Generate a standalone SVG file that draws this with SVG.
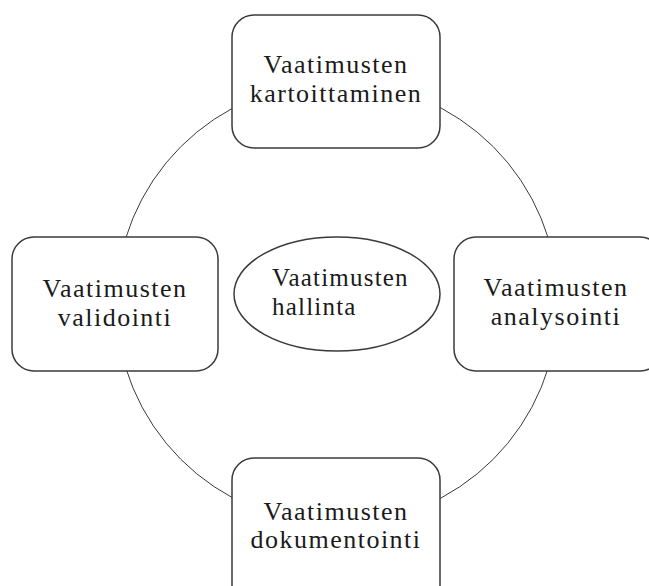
<svg xmlns="http://www.w3.org/2000/svg" width="649" height="586" viewBox="0 0 649 586">
<style>
.box{fill:#fff;stroke:#3a3a3a;stroke-width:1.5}
.ring{fill:none;stroke:#3a3a3a;stroke-width:1}
.t{font-family:"Liberation Serif",serif;font-size:26px;letter-spacing:1.5px;fill:#1a1a1a;text-anchor:middle}
.tl{font-family:"Liberation Serif",serif;font-size:25px;letter-spacing:1.2px;fill:#1a1a1a}
</style>
<rect width="649" height="586" fill="#fff"/>
<g id="connectors">
<circle class="ring" cx="337" cy="303" r="221"/>
</g>
<g id="n-kartoittaminen">
<rect class="box" x="232" y="15" width="208" height="133" rx="22"/>
<text class="t" x="336" y="73">Vaatimusten</text>
<text class="t" x="336" y="102">kartoittaminen</text>
</g>
<g id="n-validointi">
<rect class="box" x="12" y="237" width="206" height="134" rx="22"/>
<text class="t" x="115" y="297">Vaatimusten</text>
<text class="t" x="115" y="326">validointi</text>
</g>
<g id="n-analysointi">
<rect class="box" x="454" y="237" width="208" height="134" rx="22"/>
<text class="t" x="556" y="296">Vaatimusten</text>
<text class="t" x="556" y="325">analysointi</text>
</g>
<g id="n-dokumentointi">
<rect class="box" x="232" y="458" width="208" height="150" rx="22"/>
<text class="t" x="336" y="520">Vaatimusten</text>
<text class="t" x="336" y="548">dokumentointi</text>
</g>
<g id="n-hallinta">
<ellipse class="box" cx="337" cy="294" rx="103" ry="57"/>
<text class="tl" x="272" y="286">Vaatimusten</text>
<text class="tl" x="272" y="315">hallinta</text>
</g>
</svg>
